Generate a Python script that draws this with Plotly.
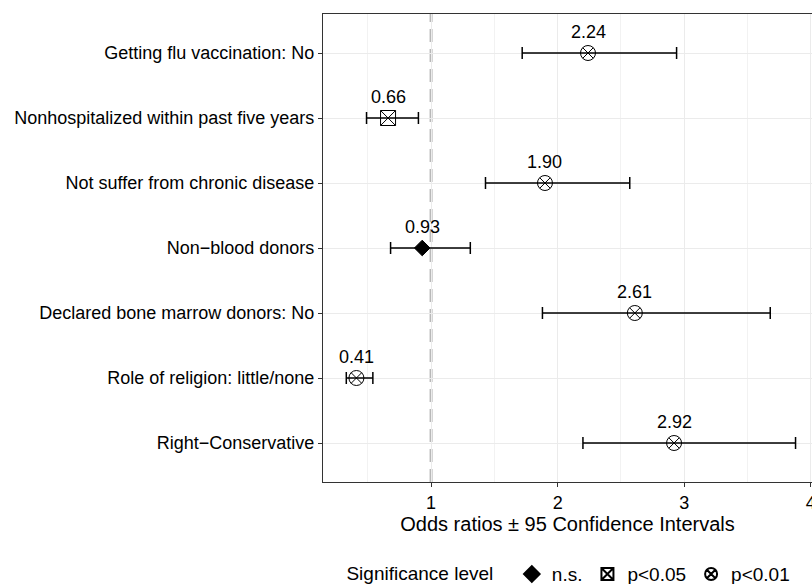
import plotly.graph_objects as go

categories = [
    "Getting flu vaccination: No",
    "Nonhospitalized within past five years",
    "Not suffer from chronic disease",
    "Non\u2212blood donors",
    "Declared bone marrow donors: No",
    "Role of religion: little/none",
    "Right\u2212Conservative",
]
odds = [2.24, 0.66, 1.90, 0.93, 2.61, 0.41, 2.92]
ci_low = [1.72, 0.49, 1.43, 0.68, 1.88, 0.33, 2.20]
ci_high = [2.94, 0.90, 2.57, 1.31, 3.68, 0.54, 3.88]
signif = ["p<0.01", "p<0.05", "p<0.01", "n.s.", "p<0.01", "p<0.01", "p<0.01"]
levels = ["n.s.", "p<0.05", "p<0.01"]
symbols = {"n.s.": "diamond", "p<0.05": "square-x-open", "p<0.01": "circle-x-open"}
sizes = {"n.s.": 12, "p<0.05": 15, "p<0.01": 15}
x_ticks = [1, 2, 3, 4]

FONT = "Liberation Sans, Arial, sans-serif"
fig = go.Figure()

for lev in levels:
    idx = [i for i, s in enumerate(signif) if s == lev]
    fig.add_trace(go.Scatter(
        x=[odds[i] for i in idx],
        y=[categories[i] for i in idx],
        mode="markers",
        name=lev,
        marker=dict(symbol=symbols[lev], size=sizes[lev], color="black",
                    line=dict(color="black", width=1)),
        error_x=dict(type="data", symmetric=False,
                     array=[ci_high[i] - odds[i] for i in idx],
                     arrayminus=[odds[i] - ci_low[i] for i in idx],
                     color="black", thickness=1.5, width=6),
    ))

fig.add_shape(type="line", xref="x", yref="paper", x0=1, x1=1, y0=0, y1=1,
              line=dict(color="#b8b8b8", width=3, dash="13px,7px"), layer="between")

for i in range(len(categories)):
    fig.add_annotation(x=odds[i], y=categories[i], text=f"{odds[i]:.2f}",
                       showarrow=False, yshift=21,
                       font=dict(size=18, color="black", family=FONT))

fig.update_layout(
    width=812, height=584,
    margin=dict(l=323, r=0, t=14, b=102, autoexpand=False),
    plot_bgcolor="white", paper_bgcolor="white",
    font=dict(family=FONT, size=18, color="black"),
    showlegend=True,
    legend=dict(orientation="h", x=0.505, xanchor="center", y=-0.197, yanchor="middle",
                title=dict(text="Significance level  ", font=dict(size=19)),
                font=dict(size=19), itemsizing="constant"),
    xaxis=dict(range=[0.146, 4.01], tickvals=x_ticks, ticktext=[str(t) for t in x_ticks],
               ticklabeloverflow="allow",
               showgrid=True, gridcolor="#ebebeb", gridwidth=1.2, automargin=False,
               minor=dict(tickvals=[0.5, 1.5, 2.5, 3.5], showgrid=True, gridcolor="#f2f2f2", gridwidth=1),
               ticks="outside", ticklen=4, tickcolor="#333", zeroline=False,
               showline=True, mirror=True, linecolor="#333", linewidth=1.2,
               title=dict(text="Odds ratios \u00b1 95 Confidence Intervals", standoff=4,
                          font=dict(size=20)),
               tickfont=dict(size=18, color="black")),
    yaxis=dict(type="category", categoryorder="array", categoryarray=categories,
               range=[6.6, -0.6], showgrid=True, gridcolor="#ebebeb", gridwidth=1.2,
               automargin=False,
               ticks="outside", ticklen=4, tickcolor="#333", zeroline=False,
               showline=True, mirror=True, linecolor="#333", linewidth=1.2,
               tickfont=dict(size=18, color="black")),
)

fig.write_html("out.html", config={"displayModeBar": False},
               post_script="document.body.style.margin='0';document.body.style.overflow='hidden';")
